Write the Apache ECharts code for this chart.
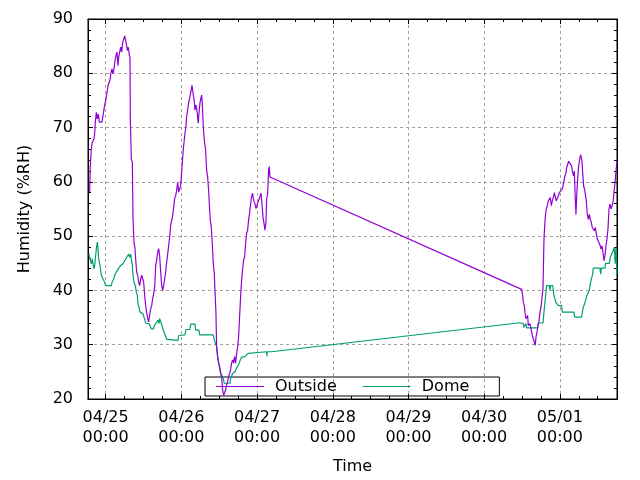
<!DOCTYPE html>
<html>
<head>
<meta charset="utf-8">
<script src="https://cdn.jsdelivr.net/npm/echarts@6/dist/echarts.min.js"></script>
<style>
html,body{margin:0;padding:0;background:#fff;}
#c{width:640px;height:480px;}
</style>
</head>
<body>
<div id="c"></div>
<script>
// Hours relative to 04/25 00:00
const outsideHours = [-5.07,-4.86,-4.55,-4.23,-3.91,-3.70,-3.49,-3.28,-2.96,-2.64,-2.33,-2.01,-1.59,-1.16,-0.85,-0.53,-0.21,0.11,0.42,0.74,1.06,1.37,1.69,2.01,2.33,2.64,2.96,3.28,3.59,3.91,4.12,4.44,4.76,5.07,5.39,5.71,6.02,6.34,6.66,6.87,7.19,7.50,7.72,7.82,8.14,8.46,8.67,8.98,9.30,9.51,9.83,10.15,10.46,10.78,11.10,11.42,11.73,12.05,12.37,12.68,13.00,13.32,13.64,13.95,14.27,14.59,14.90,15.22,15.54,15.86,16.17,16.49,16.81,17.12,17.44,17.76,18.07,18.39,18.71,19.03,19.34,19.66,19.98,20.29,20.61,20.93,21.25,21.56,21.88,22.20,22.51,22.83,23.15,23.47,23.78,24.10,24.40,24.61,24.92,25.14,25.45,25.66,25.98,26.30,26.72,27.04,27.36,27.57,27.78,28.10,28.31,28.62,28.84,29.05,29.36,29.58,29.89,30.10,30.42,30.63,30.95,31.27,31.69,32.01,32.32,32.64,32.85,33.17,33.49,33.80,34.12,34.44,34.65,34.97,35.18,35.49,35.81,36.13,36.45,36.76,37.08,37.40,37.71,38.03,38.35,38.67,38.98,39.30,39.62,39.93,40.25,40.57,40.88,41.20,41.52,41.84,42.15,42.47,42.79,43.10,43.42,43.74,44.06,44.37,44.69,45.01,45.32,45.64,45.96,46.28,46.59,46.80,47.02,47.33,47.65,47.97,48.28,48.60,48.92,49.24,49.55,49.87,50.19,50.50,50.82,51.03,51.35,51.67,51.88,52.09,52.41,131.89,132.20,132.41,132.73,132.94,133.26,133.47,133.79,134.00,134.32,134.53,134.84,135.27,135.58,135.90,136.22,136.43,136.75,137.06,137.38,137.70,138.02,138.33,138.65,138.97,139.18,139.39,139.71,140.02,140.34,140.66,140.98,141.29,141.61,141.93,142.24,142.56,142.88,143.19,143.51,143.83,144.15,144.36,144.67,144.99,145.31,145.63,145.94,146.15,146.47,146.79,147.11,147.42,147.74,148.06,148.37,148.59,148.90,149.11,149.33,149.64,149.96,150.28,150.59,150.81,151.02,151.23,151.55,151.86,152.07,152.39,152.71,153.03,153.34,153.66,153.98,154.29,154.61,154.93,155.24,155.56,155.88,156.20,156.51,156.83,157.04,157.36,157.68,157.99,158.31,158.63,158.94,159.26,159.58,159.90,160.21,160.53,160.85,161.16,161.48,161.80,162.12];
const outsideValues = [58.1,63.0,66.1,67.3,67.0,67.9,68.8,71.0,72.8,71.6,72.5,71.0,71.0,71.0,72.2,73.4,74.4,75.3,75.6,77.7,78.3,78.7,80.2,80.8,79.9,80.8,82.3,83.3,83.9,81.4,82.9,83.9,84.8,83.9,85.7,86.3,86.9,86.0,85.1,84.2,84.8,83.3,82.9,71.6,64.2,63.6,53.2,48.9,47.7,45.8,43.4,42.8,41.5,40.9,42.1,42.8,42.8,41.5,39.1,37.2,36.0,34.8,34.2,35.4,36.6,37.2,38.5,39.4,40.6,44.6,45.5,47.1,47.7,46.4,43.4,40.9,40.0,40.9,42.1,43.4,45.2,46.7,48.3,49.8,52.0,52.9,53.8,55.3,56.9,57.5,58.4,59.9,58.1,58.7,59.3,61.8,64.3,65.9,67.7,68.9,70.2,72.0,73.2,74.5,75.7,76.6,77.8,78.1,76.0,74.8,73.2,74.2,73.5,72.6,70.8,72.6,74.5,74.8,76.0,74.5,70.2,67.7,65.9,62.2,61.0,58.5,56.0,53.0,51.7,48.7,45.0,43.2,40.1,35.8,29.6,27.8,26.6,26.0,24.7,24.1,21.7,20.7,21.1,21.7,22.6,23.2,24.1,24.7,25.4,26.6,27.2,26.6,27.8,26.6,28.4,29.6,31.5,35.2,38.9,41.9,43.8,45.6,46.2,48.7,50.5,51.1,53.0,54.2,56.0,57.3,57.9,57.0,56.4,56.0,55.1,55.7,55.4,56.0,57.3,57.9,56.0,53.6,52.4,51.1,52.4,56.7,57.9,62.2,62.8,60.9,60.8,40.2,39.1,37.8,37.2,36.0,34.8,34.5,35.4,33.5,33.2,33.9,33.0,31.7,31.1,31.4,29.9,31.4,32.3,33.5,34.2,36.0,36.9,37.2,40.3,49.5,49.5,53.7,55.0,55.6,56.5,56.2,57.1,55.6,56.5,57.1,58.0,57.7,56.5,56.2,57.4,58.0,57.7,58.3,58.6,59.2,60.2,61.1,61.7,62.6,62.9,63.8,63.5,63.8,62.9,61.7,61.1,62.0,56.8,54.0,57.4,60.5,62.9,64.1,65.0,64.7,63.8,61.7,59.2,58.6,58.9,56.5,54.0,53.1,54.0,53.1,52.5,51.6,51.9,51.0,51.6,50.4,49.5,49.8,49.5,48.2,47.6,48.2,47.0,45.5,46.4,48.2,49.5,51.3,55.0,55.9,55.0,55.0,56.2,58.0,59.8,62.0,63.8];

const domeHours = [-5.29,-5.07,-4.76,-4.55,-4.23,-4.02,-3.70,-3.49,-3.28,-2.96,-2.64,-2.43,-2.22,-2.01,-1.80,-1.59,-1.37,-0.85,-0.32,0.00,1.80,2.01,2.54,2.85,3.38,3.70,4.23,4.76,5.29,5.50,6.02,6.34,6.87,7.29,7.61,7.93,8.14,8.46,8.67,8.98,9.41,9.72,10.04,10.25,10.57,10.89,11.31,11.84,12.05,12.37,12.68,13.11,13.74,14.06,14.48,15.12,15.54,16.07,16.59,16.91,17.12,17.65,18.18,18.50,18.92,19.34,19.77,22.94,23.15,25.14,25.45,26.72,26.93,28.31,28.52,29.58,29.79,34.12,34.44,34.97,35.18,35.39,35.71,36.02,36.34,36.76,37.29,37.61,39.41,39.62,40.25,40.99,41.52,42.05,42.36,42.68,43.10,44.16,44.69,45.22,45.54,51.03,51.14,51.24,52.62,130.62,131.67,132.41,132.62,132.94,133.26,133.47,136.96,137.17,138.65,138.97,139.28,139.60,139.81,140.66,140.87,141.08,141.72,141.93,142.14,142.46,142.77,143.19,143.51,144.57,144.78,148.48,148.69,150.91,151.12,151.44,151.76,151.97,152.29,152.60,153.03,153.34,153.55,153.87,154.08,154.40,154.61,156.72,156.94,157.15,158.31,158.52,159.69,160.00,160.42,160.64,161.06,161.27,161.59,161.80,162.01,162.12];
const domeValues = [46.7,46.1,45.8,44.9,45.8,44.9,44.0,44.6,45.8,47.7,48.9,47.7,45.8,46.1,44.6,44.3,42.8,42.1,41.5,40.9,40.9,41.5,42.1,42.8,43.1,43.7,44.0,44.6,44.6,44.9,44.9,45.8,46.1,46.7,46.1,46.7,45.8,44.6,42.8,41.5,40.9,39.7,39.1,37.5,36.9,36.0,35.9,35.7,35.2,34.8,34.0,33.9,33.9,33.6,32.9,32.9,33.6,33.9,34.5,33.9,34.8,33.9,32.9,32.3,31.7,31.0,30.8,30.8,31.7,31.8,32.8,32.8,33.8,33.8,32.7,32.7,31.8,31.8,30.9,30.9,29.6,28.4,27.2,26.0,25.0,24.4,23.8,22.9,22.9,23.8,24.7,25.0,25.7,26.0,26.6,27.2,27.7,27.8,28.1,28.4,28.7,28.7,27.9,28.7,28.7,34.0,34.0,33.9,33.2,33.2,33.9,33.1,33.1,34.0,34.0,36.0,37.8,39.7,40.9,40.9,40.0,40.9,40.9,40.0,39.1,38.4,37.8,37.8,37.2,37.2,36.0,36.0,35.1,35.1,36.0,36.9,37.2,37.8,38.1,39.1,39.1,40.0,40.9,41.8,42.1,43.0,44.1,44.1,43.0,44.1,44.1,45.0,45.0,46.1,46.1,47.0,47.0,47.9,44.9,47.9,44.9,43.0];

const seriesNames = ['Outside', 'Dome'];
const tickHours = [0, 24, 48, 72, 96, 120, 144];
const dayLabels = ['04/25', '04/26', '04/27', '04/28', '04/29', '04/30', '05/01'];
const minorHours = [6, 12, 18, 30, 36, 42, 54, 60, 66, 78, 84, 90, 102, 108, 114, 126, 132, 138, 150, 156];
const xMin = -5.6, xMax = 162.12;

const zip = (a, b) => a.map((h, i) => [h, b[i]]);
const FONT = 'DejaVu Sans';
const gridLine = { show: true, lineStyle: { color: '#a0a0a0', width: 1, type: [3, 3] } };

function xAx(pos, custom, len, withLabels) {
  return {
    type: 'value', position: pos, min: xMin, max: xMax, gridIndex: 0,
    axisLine: { show: true, onZero: false, lineStyle: { color: '#000', width: 1 } },
    axisTick: { show: true, inside: true, length: len, customValues: custom, lineStyle: { color: '#000', width: 1 } },
    axisLabel: withLabels ? {
      show: true, customValues: custom, margin: 9, color: '#000', fontFamily: FONT, fontSize: 16, lineHeight: 20,
      formatter: v => dayLabels[Math.round(v / 24)] + '\n00:00'
    } : { show: false, customValues: custom },
    splitLine: withLabels ? gridLine : { show: false }
  };
}
function yAx(pos, withLabels) {
  return {
    type: 'value', position: pos, min: 20, max: 90, interval: 10,
    axisLine: { show: true, onZero: false, lineStyle: { color: '#000', width: 1 } },
    axisTick: { show: true, inside: true, length: 5, lineStyle: { color: '#000' } },
    minorTick: { show: true, splitNumber: 5, length: 3, lineStyle: { color: '#000' } },
    axisLabel: withLabels ? { show: true, margin: 15, color: '#000', fontFamily: FONT, fontSize: 16 } : { show: false },
    splitLine: withLabels ? gridLine : { show: false },
    name: withLabels ? 'Humidity (%RH)' : '',
    nameLocation: 'middle', nameGap: 55, nameRotate: 90,
    nameTextStyle: { color: '#000', fontFamily: FONT, fontSize: 16 }
  };
}

const xAxes = [
  xAx('bottom', tickHours, 5, true),
  xAx('bottom', minorHours, 3, false),
  xAx('top', tickHours, 5, false),
  xAx('top', minorHours, 3, false)
];
xAxes[0].name = 'Time';
xAxes[0].nameLocation = 'middle';
xAxes[0].nameGap = 60;
xAxes[0].nameTextStyle = { color: '#000', fontFamily: FONT, fontSize: 16, verticalAlign: 'top' };

const chart = echarts.init(document.getElementById('c'), null, { renderer: 'canvas' });
chart.setOption({
  animation: false,
  backgroundColor: '#fff',
  grid: { left: 88, right: 23, top: 19, bottom: 81, show: true, borderColor: '#000', borderWidth: 1 },
  xAxis: xAxes,
  yAxis: [yAx('left', true), yAx('right', false)],
  legend: {
    left: 205, top: 377, z: 1,
    data: seriesNames,
    icon: 'rect', itemWidth: 48, itemHeight: 1.2, itemGap: 26,
    selectedMode: false,
    borderColor: '#000', borderWidth: 1, borderRadius: 0,
    padding: [0, 30, 0, 11],
    backgroundColor: 'transparent',
    textStyle: { color: '#000', fontFamily: FONT, fontSize: 16, lineHeight: 19, padding: [0, 0, 0, 6] }
  },
  series: [
    { name: seriesNames[0], type: 'line', xAxisIndex: 0, yAxisIndex: 0, data: zip(outsideHours, outsideValues),
      showSymbol: false, symbol: 'none', lineStyle: { color: '#9400d3', width: 1.2 }, itemStyle: { color: '#9400d3' }, z: 3 },
    { name: seriesNames[1], type: 'line', xAxisIndex: 0, yAxisIndex: 0, data: zip(domeHours, domeValues),
      showSymbol: false, symbol: 'none', lineStyle: { color: '#009e73', width: 1.2 }, itemStyle: { color: '#009e73' }, z: 2 }
  ]
});
</script>
</body>
</html>
